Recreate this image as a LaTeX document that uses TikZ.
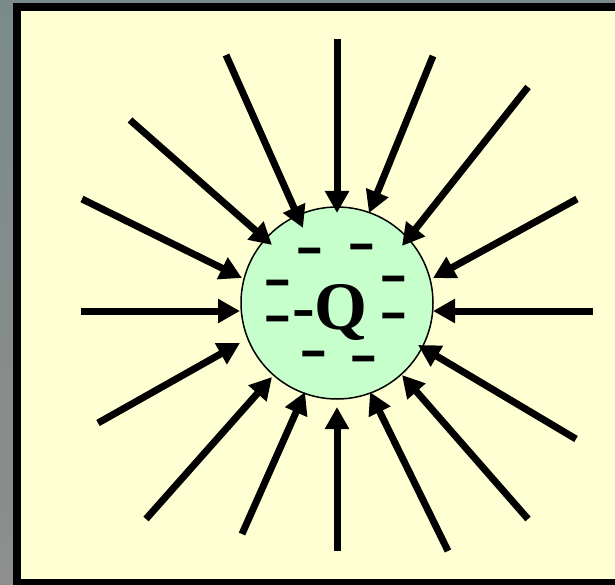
\documentclass[tikz,border=0pt]{standalone}
\usepackage{fontspec}
\setmainfont{Liberation Serif}
\newfontfamily\dashfont{Liberation Sans}
\usetikzlibrary{arrows.meta}
\definecolor{bggrayA}{RGB}{122,138,138}
\definecolor{bggrayB}{RGB}{142,142,142}
\definecolor{paper}{RGB}{255,255,212}
\definecolor{mint}{RGB}{198,255,204}
\newcommand{\chargedash}{\scalebox{1.3}[1.7]{–}}
\tikzset{
  field/.style={line width=7pt, -{Triangle[length=22pt,width=23pt]}},
  charge/.style={inner sep=0pt, font=\dashfont\bfseries\fontsize{34}{34}\selectfont}
}
\begin{document}
\begin{tikzpicture}[x=1pt,y=-1pt]
\useasboundingbox (0,0) rectangle (615,585);
\shade[top color=bggrayA, bottom color=bggrayB] (0,0) rectangle (615,585);
\fill[black] (13,3) rectangle (620,590);
\fill[paper] (21,11) rectangle (615,579);
\node[circle, draw=black, line width=1.5pt, fill=mint, minimum size=192pt, inner sep=0pt] (ball) at (337,303) {};
\node[anchor=base, inner sep=0pt, font=\bfseries\fontsize{68}{68}\selectfont] (q) at (330,329) {-Q};
\node[charge] (m1) at (309.5,257.5) {\chargedash};
\node[charge] (m2) at (361.5,253.5) {\chargedash};
\node[charge] (m3) at (277.5,289.5) {\chargedash};
\node[charge] (m4) at (393.5,285.5) {\chargedash};
\node[charge] (m5) at (277.5,325.5) {\chargedash};
\node[charge] (m6) at (393.5,322.5) {\chargedash};
\node[charge] (m7) at (313.5,360.5) {\chargedash};
\node[charge] (m8) at (363.5,365.5) {\chargedash};
% start and tip coordinates
\coordinate (s1) at (337,39);  \coordinate (t1) at (337,213);
\coordinate (s2) at (226,55);  \coordinate (t2) at (303,228);
\coordinate (s3) at (433,56);  \coordinate (t3) at (369,213);
\coordinate (s4) at (130,120); \coordinate (t4) at (272,245);
\coordinate (s5) at (528,87);  \coordinate (t5) at (402,246);
\coordinate (s6) at (82,199);  \coordinate (t6) at (242,278);
\coordinate (s7) at (577,199); \coordinate (t7) at (433,278);
\coordinate (s8) at (81,311);  \coordinate (t8) at (240,311);
\coordinate (s9) at (593,311); \coordinate (t9) at (433,311);
\coordinate (s10) at (98,423); \coordinate (t10) at (240,343);
\coordinate (s11) at (576,439); \coordinate (t11) at (418,345);
\coordinate (s12) at (146,519); \coordinate (t12) at (272,377);
\coordinate (s13) at (528,519); \coordinate (t13) at (402,375);
\coordinate (s14) at (242,534); \coordinate (t14) at (305,392);
\coordinate (s15) at (337,551); \coordinate (t15) at (337,407);
\coordinate (s16) at (448,551); \coordinate (t16) at (370,392);
\foreach \i in {1,...,16} {
  \draw[field] (s\i) -- (t\i);
}
\end{tikzpicture}
\end{document}
